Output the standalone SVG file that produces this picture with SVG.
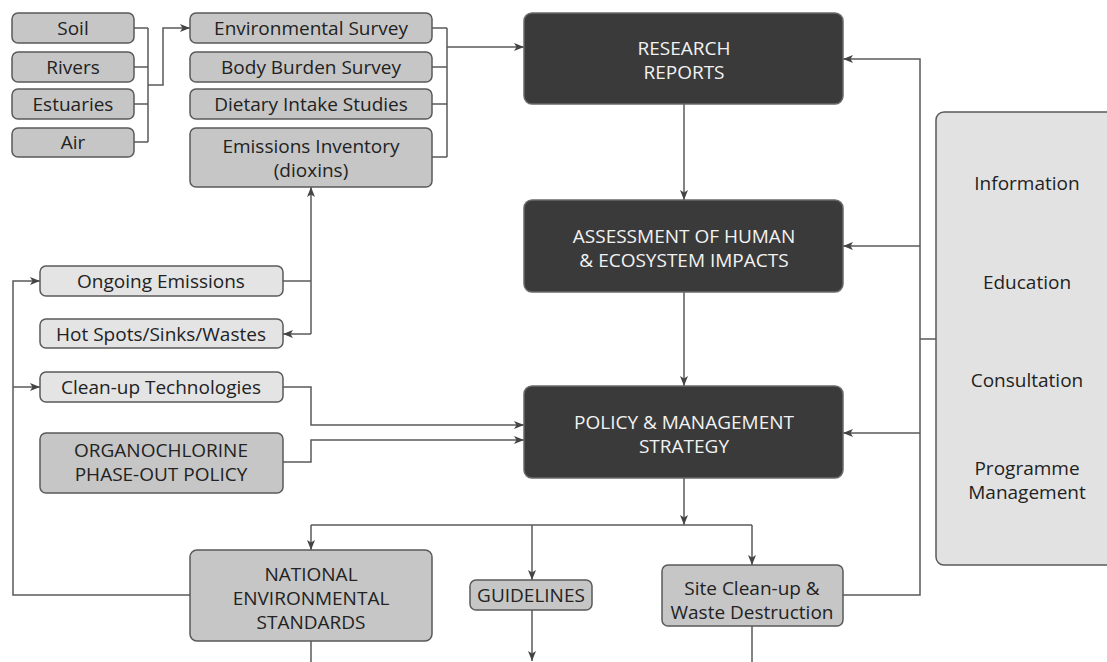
<svg xmlns="http://www.w3.org/2000/svg" width="1107" height="662" viewBox="0 0 1107 662">
<defs>
<marker id="ah" markerUnits="userSpaceOnUse" markerWidth="11" markerHeight="9" refX="10" refY="4.5" orient="auto">
<path d="M0,0.5 L10,4.5 L0,8.5 L2.5,4.5 z" fill="#444"/>
</marker>
<style>
.box{stroke:#5a5a5a;stroke-width:1.5}
.g{fill:#c6c6c6}
.l{fill:#e4e4e4}
.d{fill:#3a3a3a;stroke:#6a6a6a}
.p{fill:#e2e2e2}
text{font-family:"Open Sans","Noto Sans","DejaVu Sans",sans-serif;font-size:19px;fill:#222;text-anchor:middle}
.w{fill:#f2f2f2}
.c path{fill:none;stroke:#5a5a5a;stroke-width:1.5}
.c .a{marker-end:url(#ah)}
</style>
</defs>
<rect width="1107" height="662" fill="#fff"/>
<g class="c" id="connectors">
<path d="M134,28 H148 M134,67 H148 M134,104 H148 M134,142 H148 M148,28 V142"/>
<path class="a" d="M148,85 H163 V28 H190"/>
<path d="M432,28 H447 M432,67 H447 M432,104 H447 M432,157 H447 M447,28 V157"/>
<path class="a" d="M447,47 H524"/>
<path class="a" d="M684,104 V200"/>
<path class="a" d="M684,292 V386"/>
<path d="M283,281 H311"/>
<path class="a" d="M311,334 V187"/>
<path class="a" d="M311,334 H283"/>
<path class="a" d="M283,387 H311 V425 H524"/>
<path class="a" d="M283,462 H311 V440 H524"/>
<path class="a" d="M190,595 H13 V281 H40"/>
<path class="a" d="M13,387 H40"/>
<path class="a" d="M684,478 V525"/>
<path d="M311,525 H752"/>
<path class="a" d="M311,525 V550"/>
<path class="a" d="M532,525 V580"/>
<path class="a" d="M752,525 V565"/>
<path d="M311,641 V662"/>
<path class="a" d="M532,610 V661"/>
<path d="M752,626 V662"/>
<path class="a" d="M843,595 H920 V59 H843"/>
<path class="a" d="M920,246 H843"/>
<path class="a" d="M920,433 H843"/>
<path d="M936,339 H920"/>
</g>
<g id="soil"><rect class="box g" x="12" y="13" width="122" height="30" rx="6"/><text x="73" y="35">Soil</text></g>
<g id="rivers"><rect class="box g" x="12" y="52" width="122" height="30" rx="6"/><text x="73" y="74">Rivers</text></g>
<g id="estuaries"><rect class="box g" x="12" y="89" width="122" height="30" rx="6"/><text x="73" y="111">Estuaries</text></g>
<g id="air"><rect class="box g" x="12" y="128" width="122" height="29" rx="6"/><text x="73" y="149">Air</text></g>
<g id="env-survey"><rect class="box g" x="190" y="13" width="242" height="30" rx="6"/><text x="311" y="35">Environmental Survey</text></g>
<g id="body-burden"><rect class="box g" x="190" y="52" width="242" height="30" rx="6"/><text x="311" y="74">Body Burden Survey</text></g>
<g id="dietary"><rect class="box g" x="190" y="89" width="242" height="30" rx="6"/><text x="311" y="111">Dietary Intake Studies</text></g>
<g id="emissions-inventory"><rect class="box g" x="190" y="128" width="242" height="59" rx="6"/><text x="311" y="153">Emissions Inventory</text><text x="311" y="177">(dioxins)</text></g>
<g id="research"><rect class="box d" x="524" y="13" width="319" height="91" rx="8"/><text class="w" x="684" y="55">RESEARCH</text><text class="w" x="684" y="79">REPORTS</text></g>
<g id="assessment"><rect class="box d" x="524" y="200" width="319" height="92" rx="8"/><text class="w" x="684" y="243">ASSESSMENT OF HUMAN</text><text class="w" x="684" y="267">&amp; ECOSYSTEM IMPACTS</text></g>
<g id="policy"><rect class="box d" x="524" y="386" width="319" height="92" rx="8"/><text class="w" x="684" y="429">POLICY &amp; MANAGEMENT</text><text class="w" x="684" y="453">STRATEGY</text></g>
<g id="ongoing"><rect class="box l" x="40" y="266" width="243" height="30" rx="6"/><text x="161" y="288">Ongoing Emissions</text></g>
<g id="hotspots"><rect class="box l" x="40" y="319" width="243" height="29" rx="6"/><text x="161" y="341">Hot Spots/Sinks/Wastes</text></g>
<g id="cleanup-tech"><rect class="box l" x="40" y="372" width="243" height="30" rx="6"/><text x="161" y="394">Clean-up Technologies</text></g>
<g id="organochlorine"><rect class="box g" x="40" y="433" width="243" height="60" rx="6"/><text x="161" y="457">ORGANOCHLORINE</text><text x="161" y="481">PHASE-OUT POLICY</text></g>
<g id="national"><rect class="box g" x="190" y="550" width="242" height="91" rx="7"/><text x="311" y="581">NATIONAL</text><text x="311" y="605">ENVIRONMENTAL</text><text x="311" y="629">STANDARDS</text></g>
<g id="guidelines"><rect class="box g" x="470" y="580" width="122" height="30" rx="6"/><text x="531" y="602">GUIDELINES</text></g>
<g id="site"><rect class="box g" x="662" y="565" width="181" height="61" rx="6"/><text x="752" y="595">Site Clean-up &amp;</text><text x="752" y="619">Waste Destruction</text></g>
<g id="panel"><rect class="box p" x="936" y="112" width="190" height="453" rx="8"/><text x="1027" y="190">Information</text><text x="1027" y="289">Education</text><text x="1027" y="387">Consultation</text><text x="1027" y="475">Programme</text><text x="1027" y="499">Management</text></g>
</svg>
